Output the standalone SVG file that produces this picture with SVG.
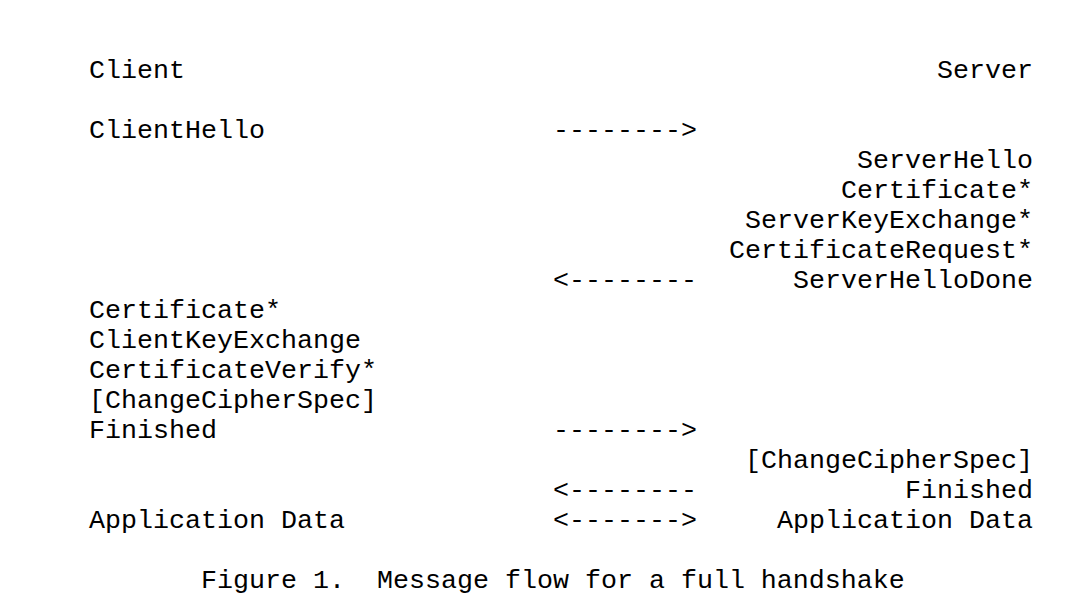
<svg xmlns="http://www.w3.org/2000/svg" width="1090" height="614" viewBox="0 0 1090 614">
<style>
text{font-family:"Liberation Mono","Courier New",monospace;font-size:26.67px;fill:#000;white-space:pre}
.r{text-anchor:end}
</style>
<rect width="1090" height="614" fill="#fff"/>
<g id="client">
<text x="89" y="78">Client</text>
<text x="89" y="138">ClientHello</text>
<text x="89" y="318">Certificate*</text>
<text x="89" y="348">ClientKeyExchange</text>
<text x="89" y="378">CertificateVerify*</text>
<text x="89" y="408">[ChangeCipherSpec]</text>
<text x="89" y="438">Finished</text>
<text x="89" y="528">Application Data</text>
</g>
<g id="server">
<text class="r" x="1033" y="78">Server</text>
<text class="r" x="1033" y="168">ServerHello</text>
<text class="r" x="1033" y="198">Certificate*</text>
<text class="r" x="1033" y="228">ServerKeyExchange*</text>
<text class="r" x="1033" y="258">CertificateRequest*</text>
<text class="r" x="1033" y="288">ServerHelloDone</text>
<text class="r" x="1033" y="468">[ChangeCipherSpec]</text>
<text class="r" x="1033" y="498">Finished</text>
<text class="r" x="1033" y="528">Application Data</text>
</g>
<g id="connectors">
<text x="553" y="138">--------&gt;</text>
<text x="553" y="288">&lt;--------</text>
<text x="553" y="438">--------&gt;</text>
<text x="553" y="498">&lt;--------</text>
<text x="553" y="528">&lt;-------&gt;</text>
</g>
<g id="caption">
<text x="201" y="588">Figure 1.  Message flow for a full handshake</text>
</g>
</svg>
